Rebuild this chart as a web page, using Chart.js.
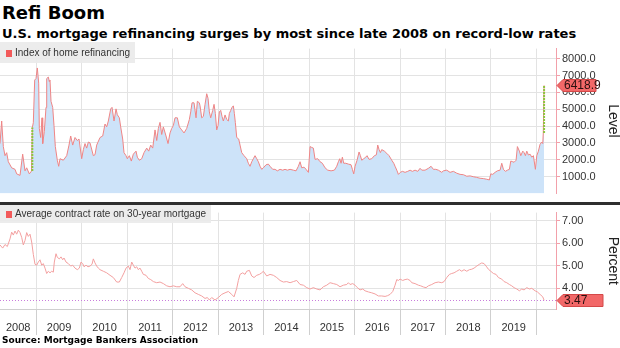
<!DOCTYPE html>
<html>
<head>
<title>Refi Boom</title>
<script src="https://cdn.jsdelivr.net/npm/chart.js"></script>
<style>
  body { margin: 0; background: #fff; }
  #wrap { position: relative; width: 620px; height: 348px; overflow: hidden; font-family: "Liberation Sans", Arial, sans-serif; }
  #title { position: absolute; left: 2px; top: 2px; font: bold 18px "DejaVu Sans", sans-serif; color: #000; }
  #subtitle { position: absolute; left: 2px; top: 26px; font: bold 13px "DejaVu Sans", sans-serif; color: #000; white-space: nowrap; }
  #source { position: absolute; left: 2px; top: 335px; font: bold 9px "DejaVu Sans", sans-serif; color: #000; }
  canvas { position: absolute; left: 0; }
  #topChart { top: 40px; }
  #bottomChart { top: 204px; }
  #divider { position: absolute; left: 0; top: 202px; width: 620px; height: 3px; background: #2e2e2e; }
  .legend { position: absolute; left: 0; background: rgba(234,234,234,0.9); font-size: 10px; color: #333; padding: 0 5px 0 6px; white-space: nowrap; }
  .legend i { display: inline-block; width: 6px; height: 7px; background: #f25a5a; margin-right: 3px; vertical-align: -1px; }
  #legendTop { top: 42px; height: 21px; line-height: 21px; }
  #legendBottom { top: 205px; height: 18px; line-height: 18px; }
</style>
</head>
<body>
<div id="wrap">
  <div id="title">Refi Boom</div>
  <div id="subtitle">U.S. mortgage refinancing surges by most since late 2008 on record-low rates</div>
  <canvas id="topChart" width="620" height="162"></canvas>
  <canvas id="bottomChart" width="620" height="133"></canvas>
  <div id="divider"></div>
  <div class="legend" id="legendTop"><i></i>Index of home refinancing</div>
  <div class="legend" id="legendBottom"><i></i>Average contract rate on 30-year mortgage</div>
  <div id="source">Source: Mortgage Bankers Association</div>
</div>

<script>
// MBA refinance index, weekly (decimal years)
var refiDates = [
  2008.200, 2008.237, 2008.273, 2008.310, 2008.347, 2008.383, 2008.457, 2008.530, 2008.567, 2008.640,
  2008.699, 2008.750, 2008.787, 2008.845, 2008.893, 2008.911, 2008.933, 2008.963, 2008.992, 2009.021,
  2009.051, 2009.065, 2009.095, 2009.124, 2009.139, 2009.175, 2009.212, 2009.227, 2009.263, 2009.285,
  2009.300, 2009.322, 2009.359, 2009.388, 2009.417, 2009.461, 2009.491, 2009.520, 2009.593, 2009.667,
  2009.718, 2009.755, 2009.799, 2009.850, 2009.901, 2009.938, 2009.997, 2010.033, 2010.070, 2010.107,
  2010.143, 2010.180, 2010.253, 2010.290, 2010.327, 2010.400, 2010.459, 2010.510, 2010.547, 2010.583,
  2010.635, 2010.664, 2010.708, 2010.752, 2010.781, 2010.825, 2010.855, 2010.899, 2010.928, 2010.972,
  2011.001, 2011.045, 2011.089, 2011.133, 2011.192, 2011.221, 2011.265, 2011.317, 2011.368, 2011.427,
  2011.471, 2011.515, 2011.559, 2011.610, 2011.647, 2011.683, 2011.720, 2011.757, 2011.793, 2011.852,
  2011.896, 2011.940, 2011.977, 2012.013, 2012.050, 2012.101, 2012.145, 2012.197, 2012.248, 2012.307,
  2012.365, 2012.395, 2012.424, 2012.468, 2012.512, 2012.541, 2012.585, 2012.600, 2012.637, 2012.673,
  2012.710, 2012.747, 2012.776, 2012.805, 2012.835, 2012.879, 2012.908, 2012.937, 2012.967, 2012.996,
  2013.025, 2013.055, 2013.084, 2013.113, 2013.150, 2013.187, 2013.223, 2013.245, 2013.275, 2013.304,
  2013.333, 2013.355, 2013.377, 2013.407, 2013.451, 2013.480, 2013.517, 2013.568, 2013.627, 2013.663,
  2013.700, 2013.737, 2013.773, 2013.810, 2013.847, 2013.883, 2013.920, 2013.957, 2013.993, 2014.052,
  2014.103, 2014.140, 2014.199, 2014.250, 2014.301, 2014.360, 2014.419, 2014.470, 2014.521, 2014.580,
  2014.653, 2014.712, 2014.763, 2014.800, 2014.837, 2014.888, 2014.932, 2014.983, 2015.020, 2015.057,
  2015.093, 2015.130, 2015.189, 2015.240, 2015.291, 2015.350, 2015.409, 2015.482, 2015.555, 2015.607,
  2015.643, 2015.673, 2015.702, 2015.731, 2015.761, 2015.805, 2015.863, 2015.922, 2015.951, 2015.981,
  2016.010, 2016.054, 2016.098, 2016.127, 2016.157, 2016.201, 2016.245, 2016.274, 2016.318, 2016.377,
  2016.435, 2016.479, 2016.509, 2016.538, 2016.567, 2016.597, 2016.655, 2016.707, 2016.758, 2016.817,
  2016.861, 2016.890, 2016.934, 2016.963, 2017.007, 2017.051, 2017.110, 2017.169, 2017.220, 2017.271,
  2017.330, 2017.389, 2017.440, 2017.477, 2017.550, 2017.623, 2017.682, 2017.733, 2017.785, 2017.843,
  2017.917, 2017.953, 2018.027, 2018.100, 2018.173, 2018.247, 2018.320, 2018.393, 2018.467, 2018.540,
  2018.613, 2018.687, 2018.760, 2018.833, 2018.907, 2018.965, 2018.995, 2019.039, 2019.090, 2019.141,
  2019.200, 2019.237, 2019.273, 2019.317, 2019.361, 2019.405, 2019.435, 2019.479, 2019.508, 2019.552,
  2019.581, 2019.625, 2019.655, 2019.699, 2019.728, 2019.757, 2019.787, 2019.823, 2019.860, 2019.897,
  2019.933, 2019.977, 2020.007, 2020.043, 2020.080, 2020.117, 2020.139, 2020.150, 2020.168
];
var refiIndex = [
  2960, 4300, 2780, 2240, 2420, 1880, 1520, 1430, 1160, 1070,
  2330, 1340, 1520, 1160, 1325, 3910, 4200, 6730, 6820, 7450,
  6550, 3860, 3320, 4490, 2960, 3680, 5110, 6820, 6910, 6640,
  6730, 5470, 5110, 4030, 2780, 1970, 1610, 2060, 1970, 2240,
  2870, 3410, 2870, 3320, 3140, 3230, 2060, 2600, 2960, 2690,
  3050, 3000, 2240, 2300, 2870, 3320, 3410, 4120, 3950, 4300,
  5020, 5110, 4300, 5020, 4670, 4490, 3950, 3230, 2420, 2240,
  2060, 2240, 1920, 2330, 2510, 2150, 1970, 2060, 2420, 2690,
  2510, 2870, 2690, 3770, 3140, 3860, 4220, 3500, 3950, 3410,
  2960, 3590, 3860, 4030, 4490, 4490, 3950, 3770, 3590, 3860,
  4390, 4840, 5380, 5380, 4490, 5470, 5380, 5200, 4490, 4570,
  5290, 5920, 5650, 4840, 4490, 4930, 5290, 4750, 3770, 4030,
  4840, 4930, 4570, 4300, 4660, 4390, 4300, 4750, 4930, 5110,
  5200, 4750, 4210, 3320, 3230, 2870, 2420, 2240, 2060, 1790,
  1610, 1880, 2060, 2240, 2060, 1880, 1610, 1430, 1520, 1700,
  1740, 1610, 1430, 1430, 1340, 1430, 1380, 1430, 1380, 1430,
  1380, 1340, 1610, 1880, 1520, 1560, 1430, 1250, 2780, 2730,
  2690, 2020, 2060, 1880, 1790, 1520, 1380, 1340, 1380, 1610,
  1880, 2060, 1790, 2150, 1790, 1790, 1740, 1700, 1430, 1160,
  1610, 1970, 2460, 2240, 1970, 2060, 2150, 2240, 2020, 2060,
  2240, 2290, 2870, 2600, 2420, 2600, 2510, 2380, 2240, 1970,
  1790, 1610, 1340, 1130, 1250, 1310, 1250, 1310, 1380, 1310,
  1380, 1310, 1490, 1380, 1380, 1490, 1610, 1430, 1430, 1380,
  1250, 1340, 1380, 1250, 1310, 1200, 1130, 1110, 1020, 1040,
  990, 950, 900, 880, 840, 800, 1160, 1130, 1250, 1340,
  1380, 1790, 1430, 1310, 1380, 1430, 1920, 1880, 1850, 1970,
  2780, 2510, 2240, 2510, 2420, 2240, 2510, 2280, 2330, 2150,
  2240, 1430, 2240, 2510, 2920, 3050, 2960, 3586, 6418.9
];

// 30-year contract rate, percent
var rateDates = [
  2008.200, 2008.259, 2008.310, 2008.361, 2008.420, 2008.457, 2008.493, 2008.530, 2008.567, 2008.603,
  2008.640, 2008.677, 2008.713, 2008.750, 2008.787, 2008.823, 2008.860, 2008.897, 2008.933, 2008.970,
  2009.007, 2009.043, 2009.080, 2009.117, 2009.153, 2009.190, 2009.227, 2009.263, 2009.300, 2009.337,
  2009.373, 2009.395, 2009.432, 2009.461, 2009.505, 2009.542, 2009.579, 2009.608, 2009.652, 2009.703,
  2009.755, 2009.799, 2009.850, 2009.901, 2009.945, 2009.982, 2010.019, 2010.048, 2010.092, 2010.136,
  2010.180, 2010.224, 2010.253, 2010.290, 2010.327, 2010.363, 2010.400, 2010.473, 2010.547, 2010.620,
  2010.693, 2010.767, 2010.825, 2010.877, 2010.928, 2010.972, 2011.023, 2011.060, 2011.097, 2011.133,
  2011.170, 2011.207, 2011.243, 2011.280, 2011.317, 2011.353, 2011.412, 2011.463, 2011.515, 2011.573,
  2011.647, 2011.720, 2011.793, 2011.867, 2011.940, 2012.013, 2012.087, 2012.160, 2012.219, 2012.270,
  2012.343, 2012.417, 2012.490, 2012.563, 2012.637, 2012.710, 2012.761, 2012.805, 2012.857, 2012.930,
  2013.003, 2013.077, 2013.150, 2013.223, 2013.297, 2013.348, 2013.407, 2013.443, 2013.480, 2013.539,
  2013.590, 2013.627, 2013.685, 2013.737, 2013.788, 2013.847, 2013.905, 2013.957, 2013.993, 2014.067,
  2014.140, 2014.213, 2014.287, 2014.360, 2014.433, 2014.507, 2014.580, 2014.653, 2014.727, 2014.800,
  2014.873, 2014.947, 2015.020, 2015.093, 2015.167, 2015.240, 2015.313, 2015.387, 2015.460, 2015.533,
  2015.607, 2015.680, 2015.753, 2015.827, 2015.863, 2015.900, 2015.959, 2016.010, 2016.061, 2016.120,
  2016.179, 2016.230, 2016.303, 2016.377, 2016.450, 2016.523, 2016.597, 2016.670, 2016.721, 2016.780,
  2016.839, 2016.890, 2016.927, 2016.963, 2017.000, 2017.059, 2017.110, 2017.161, 2017.220, 2017.257,
  2017.330, 2017.403, 2017.455, 2017.513, 2017.572, 2017.623, 2017.697, 2017.770, 2017.843, 2017.917,
  2017.968, 2018.027, 2018.085, 2018.137, 2018.188, 2018.247, 2018.305, 2018.357, 2018.408, 2018.467,
  2018.525, 2018.577, 2018.628, 2018.687, 2018.745, 2018.797, 2018.848, 2018.892, 2018.943, 2018.995,
  2019.053, 2019.112, 2019.163, 2019.237, 2019.288, 2019.347, 2019.405, 2019.457, 2019.508, 2019.567,
  2019.625, 2019.677, 2019.728, 2019.787, 2019.845, 2019.897, 2019.970, 2020.021, 2020.080, 2020.139,
  2020.168
];
var rateValues = [
  5.93, 5.79, 5.95, 5.86, 6.20, 6.50, 6.37, 6.55, 6.41, 6.59,
  6.48, 6.27, 5.93, 6.13, 6.48, 6.31, 6.41, 6.06, 5.51, 5.07,
  5.03, 5.17, 5.27, 5.03, 5.10, 4.90, 4.66, 4.76, 4.69, 4.76,
  4.72, 5.17, 5.54, 5.38, 5.31, 5.40, 5.27, 5.35, 5.17, 5.10,
  4.99, 5.03, 4.90, 4.83, 4.90, 5.17, 5.10, 4.96, 5.03, 4.96,
  4.99, 5.07, 5.31, 5.13, 4.99, 4.90, 4.83, 4.76, 4.69, 4.58,
  4.48, 4.28, 4.28, 4.48, 4.69, 4.90, 4.99, 4.83, 5.17, 5.03,
  4.90, 4.96, 4.83, 4.90, 4.76, 4.62, 4.58, 4.44, 4.39, 4.30,
  4.25, 4.28, 4.21, 4.11, 4.07, 4.11, 4.07, 4.07, 4.21, 4.07,
  4.00, 3.93, 3.80, 3.73, 3.66, 3.55, 3.59, 3.48, 3.59, 3.48,
  3.59, 3.73, 3.80, 3.86, 3.73, 3.62, 4.00, 4.35, 4.62, 4.69,
  4.62, 4.76, 4.80, 4.55, 4.48, 4.58, 4.62, 4.69, 4.76, 4.55,
  4.62, 4.58, 4.48, 4.35, 4.28, 4.30, 4.25, 4.30, 4.35, 4.17,
  4.14, 4.03, 3.97, 4.03, 3.97, 3.93, 4.07, 4.14, 4.25, 4.21,
  4.17, 4.07, 4.14, 4.17, 4.25, 4.17, 4.21, 4.14, 4.03, 3.93,
  3.97, 3.89, 3.84, 3.80, 3.75, 3.66, 3.66, 3.64, 3.67, 3.73,
  3.86, 4.14, 4.39, 4.35, 4.41, 4.35, 4.39, 4.41, 4.35, 4.25,
  4.21, 4.14, 4.11, 4.06, 4.03, 4.11, 4.17, 4.25, 4.28, 4.25,
  4.30, 4.48, 4.62, 4.66, 4.69, 4.76, 4.83, 4.76, 4.83, 4.76,
  4.83, 4.85, 4.90, 4.99, 5.07, 5.13, 5.10, 4.99, 4.85, 4.76,
  4.66, 4.62, 4.48, 4.41, 4.30, 4.25, 4.17, 4.11, 4.03, 3.97,
  3.89, 3.97, 3.93, 4.03, 3.97, 4.00, 3.89, 3.84, 3.73, 3.62,
  3.47
];

// weeks where the index jumped (green markers)
var surgeDates = [2008.911, 2020.168];

var yearBounds = [2009, 2010, 2011, 2012, 2013, 2014, 2015, 2016, 2017, 2018, 2019, 2020];
var yearLabels = ['2008', '2009', '2010', '2011', '2012', '2013', '2014', '2015', '2016', '2017', '2018', '2019'];
var levelTicks = [1000, 2000, 3000, 4000, 5000, 6000, 7000, 8000];
var rateTicks = [4, 5, 6, 7];

var xMin = 2008.2, xMax = 2020.43;

// label sits in the middle of the visible part of its year
var labelCenters = yearLabels.map(function (y) {
  var a = Math.max(xMin, +y), b = Math.min(xMax, +y + 1);
  return +((a + b) / 2).toFixed(3);
});

var refiPoints = refiDates.map(function (t, i) { return { x: t, y: refiIndex[i] }; });
var ratePoints = rateDates.map(function (t, i) { return { x: t, y: rateValues[i] }; });
var surgePoints = [];
surgeDates.forEach(function (t) {
  var i = refiDates.indexOf(t);
  surgePoints.push({ x: t, y: refiIndex[i - 1] }, { x: t, y: refiIndex[i] }, { x: t, y: null });
});

var gridGray = '#e3e3e3';
var axisPink = '#f2a0aa';
var tickFont = { family: '"Liberation Sans", Arial, sans-serif', size: 11 };

var lastValueTag = {
  id: 'lastValueTag',
  afterDraw: function (chart, args, opts) {
    if (!opts || opts.decimals === undefined) return;
    var data = chart.data.datasets[opts.dataset].data;
    var last = data[data.length - 1];
    var area = chart.chartArea;
    var y = Math.round(chart.scales.y.getPixelForValue(last.y)) + 0.5;
    var ctx = chart.ctx;
    ctx.save();
    if (opts.guide) {
      ctx.strokeStyle = '#c97ddc';
      ctx.lineWidth = 1;
      ctx.setLineDash([1, 2]);
      ctx.beginPath();
      ctx.moveTo(area.left, y);
      ctx.lineTo(area.right, y);
      ctx.stroke();
      ctx.setLineDash([]);
    }
    var x0 = area.right + 1, h = 6;
    ctx.beginPath();
    ctx.moveTo(x0, y);
    ctx.lineTo(x0 + 6, y - h);
    ctx.lineTo(x0 + opts.width, y - h);
    ctx.lineTo(x0 + opts.width, y + h);
    ctx.lineTo(x0 + 6, y + h);
    ctx.closePath();
    ctx.fillStyle = '#f26868';
    ctx.fill();
    ctx.strokeStyle = '#d44848';
    ctx.lineWidth = 1;
    ctx.stroke();
    ctx.fillStyle = '#2a1010';
    ctx.font = '12px "Liberation Sans", Arial, sans-serif';
    ctx.textBaseline = 'middle';
    ctx.textAlign = 'left';
    ctx.fillText(last.y.toFixed(opts.decimals), x0 + 7, y + 0.5);
    ctx.restore();
  }
};

function rightAxis(ticksList, decimals, title) {
  return {
    position: 'right',
    afterBuildTicks: function (scale) {
      scale.ticks = ticksList.map(function (v) { return { value: v }; });
    },
    afterFit: function (scale) { scale.width = 64; },
    border: { display: true, color: axisPink, width: 1 },
    grid: { color: gridGray, tickColor: axisPink, tickLength: 4, lineWidth: 1 },
    ticks: {
      color: '#333', font: tickFont, padding: 2,
      callback: function (v) { return Number(v).toFixed(decimals); }
    },
    title: {
      display: true, text: title, color: '#222',
      font: { family: '"Liberation Sans", Arial, sans-serif', size: 14, lineHeight: 1 },
      padding: 0
    }
  };
}

function isBound(ctx) {
  return ctx.tick && yearBounds.indexOf(ctx.tick.value) >= 0;
}

Chart.defaults.font.family = '"Liberation Sans", Arial, sans-serif';

// --- top panel: refinance index ---
var topY = rightAxis(levelTicks, 1, 'Level');
topY.min = 0;
topY.max = 8600;

new Chart(document.getElementById('topChart'), {
  type: 'line',
  data: {
    datasets: [
      {
        label: 'surge',
        data: surgePoints,
        borderColor: '#8dc63f',
        borderWidth: 2,
        borderDash: [2, 1],
        pointRadius: 0,
        fill: false,
        order: 0
      },
      {
        label: 'Index of home refinancing',
        data: refiPoints,
        borderColor: '#ef8585',
        borderWidth: 1,
        backgroundColor: '#cde3f9',
        fill: 'origin',
        pointRadius: 0,
        tension: 0,
        order: 1
      }
    ]
  },
  options: {
    responsive: false,
    animation: false,
    layout: { padding: { top: 2, left: 0, right: 0, bottom: 0 } },
    plugins: {
      legend: { display: false },
      tooltip: { enabled: false },
      lastValueTag: { dataset: 1, decimals: 1, width: 39 }
    },
    scales: {
      x: {
        type: 'linear', min: xMin, max: xMax,
        afterBuildTicks: function (scale) {
          scale.ticks = yearBounds.map(function (v) { return { value: v }; });
        },
        afterFit: function (scale) { scale.height = 0; },
        border: { display: false },
        grid: { color: gridGray, drawTicks: false },
        ticks: { display: false }
      },
      y: topY
    }
  },
  plugins: [lastValueTag]
});

// --- bottom panel: 30-year rate ---
var botY = rightAxis(rateTicks, 2, 'Percent');
botY.min = 3.08;
botY.max = 7.37;

new Chart(document.getElementById('bottomChart'), {
  type: 'line',
  data: {
    datasets: [
      {
        label: 'Average contract rate on 30-year mortgage',
        data: ratePoints,
        borderColor: '#f3a0a0',
        borderWidth: 1,
        pointRadius: 0,
        fill: false,
        tension: 0
      }
    ]
  },
  options: {
    responsive: false,
    animation: false,
    layout: { padding: { top: 1, left: 0, right: 0, bottom: 0 } },
    plugins: {
      legend: { display: false },
      tooltip: { enabled: false },
      lastValueTag: { dataset: 0, decimals: 2, width: 46, guide: true }
    },
    scales: {
      x: {
        type: 'linear', min: xMin, max: xMax,
        afterBuildTicks: function (scale) {
          var all = yearBounds.concat(labelCenters).sort(function (a, b) { return a - b; });
          scale.ticks = all.map(function (v) { return { value: v }; });
        },
        afterFit: function (scale) { scale.height = 28; },
        border: { display: true, color: '#cfcfcf' },
        grid: {
          color: function (ctx) { return isBound(ctx) ? gridGray : 'rgba(0,0,0,0)'; },
          tickColor: function (ctx) { return isBound(ctx) ? '#cfcfcf' : 'rgba(0,0,0,0)'; },
          tickLength: 26
        },
        ticks: {
          autoSkip: false, maxRotation: 0, color: '#333', font: tickFont, padding: -14,
          callback: function (v) {
            var k = labelCenters.indexOf(v);
            return k >= 0 ? yearLabels[k] : '';
          }
        }
      },
      y: botY
    }
  },
  plugins: [lastValueTag]
});
</script>
</body>
</html>
